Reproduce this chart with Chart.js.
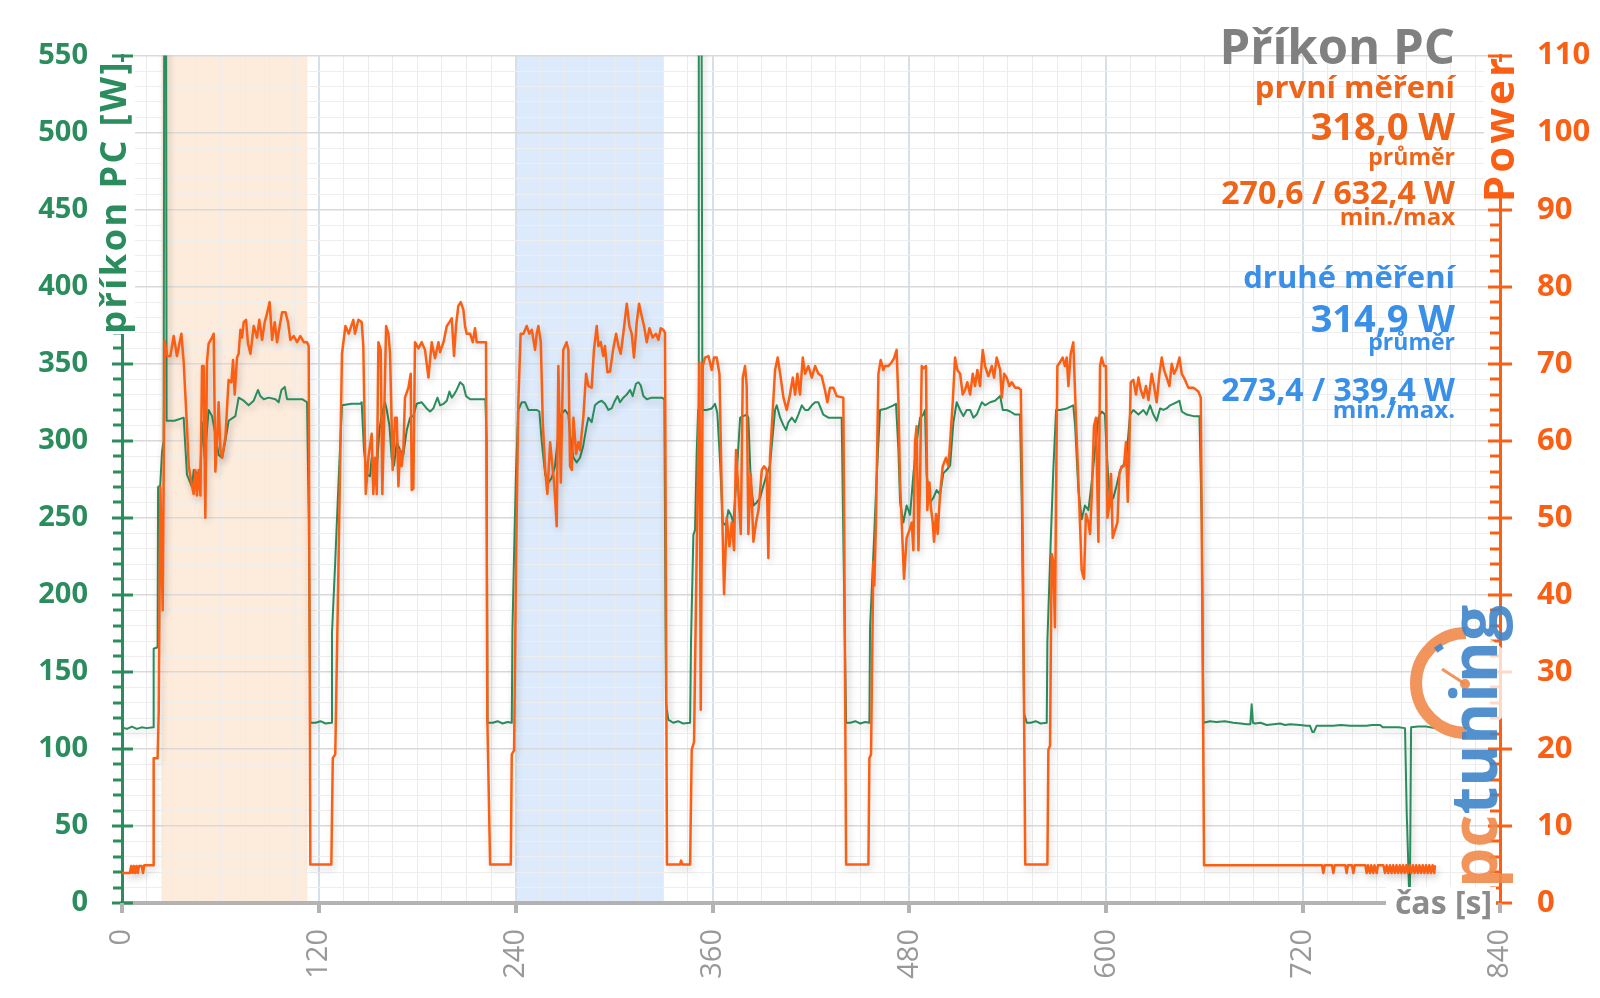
<!DOCTYPE html>
<html lang="cs">
<head>
<meta charset="utf-8">
<title>Příkon PC</title>
<script src="https://cdn.jsdelivr.net/npm/chart.js@4.4.1/dist/chart.umd.min.js"></script>
<style>
  html, body { margin: 0; padding: 0; background: #fff; }
  #power-chart { display: block; }
</style>
</head>
<body>
<canvas id="power-chart" width="1600" height="998"></canvas>
<script>
// time [s] / value pairs
const greenSeries = [
  [0,114],[3,113],[6,114.5],[9,113],[12,114],[15,113.5],[19,114],[19.3,165],[21.7,166],[22,270],[23.3,271],[24.4,293],[25.4,300],[25.8,632],[26.8,632],[27.2,313],[32,313],[37.6,315],
  [39.6,278],[42.7,270],[43.7,281],[46.7,278],[47.8,281],[48.8,312],[50.4,289],[52.8,320],[54.9,316],[56.9,304],[58.9,291],[61,289],[63,300],[65,313],[69.1,316],[71.1,328],[74.2,326],
  [77.2,323],[80.3,326],[82.9,333],[84.3,329],[86.4,327],[89.4,328],[93.5,327],[95.5,325],[97.2,333],[99.2,335],[100.6,327],[105.7,327],[109.8,327],[112.8,325],[113.8,252],[114.8,117],
  [118,117],[121,118],[124,116.5],[127.6,117],[128,175],[130,222],[132.1,276],[134.1,323],[140,324],[145.3,324],[146.1,325],[147.5,294],[149.2,278],[151.2,277],[152.2,289],[153.6,281],
  [155.3,281],[156.9,307],[158.3,317],[160.3,325],[161.4,320],[163,310],[164.4,289],[165.8,284],[167.5,299],[169.5,294],[171.5,291],[173.6,307],[175.6,315],[177.6,316],[179.6,324],
  [182.7,325],[185.7,321],[187.8,319],[189.8,321],[192.3,328],[193.9,323],[196,324],[198,326],[199.6,332],[201,328],[202.4,330],[204,333],[206.1,338],[208.1,336],[209.7,329],[212.2,327],
  [215.2,327],[219.3,327],[221.5,327],[222.3,300],[222.8,117],[226,117],[229,118],[232,116.5],[235,117.5],[237.6,117],[238,177],[239,226],[240.2,281],[241.6,320],[243.7,325],[245.7,325],
  [247.7,320],[250.4,320],[252.8,320],[254.4,319],[255.9,299],[258,278],[260,273],[262,276],[264,284],[266,305],[267.5,317],[270.1,320],[272.1,317],[273.1,304],[275.2,289],[277.2,286],
  [279.2,289],[281.2,297],[283.3,310],[284.3,315],[286.3,312],[288.3,323],[290.4,325],[292.4,326],[294.4,324],[296.5,320],[298.5,321],[300.5,326],[302,329],[303.6,325],[305.6,328],
  [307.7,330],[309.7,333],[311.3,329],[313.3,337],[314.8,338],[316.2,336],[317.8,329],[319.9,327],[322.9,328],[326,328],[329,328],[330.6,327],[331.6,130],[333,119],[336,117],[339,118],
  [342,116.5],[346.3,117],[346.9,172],[348.3,239],[349.3,242],[350.3,291],[351.2,320],[351.6,620],[353.2,620],[353.8,320],[356.4,320],[359.5,321],[361.5,324],[362.9,318],[364.6,286],
  [366.2,247],[368.2,245],[369.6,255],[371.1,252],[372.7,247],[374.7,278],[376.8,315],[378.8,316],[380.8,317],[381.8,315],[383.3,273],[384.9,258],[386.9,260],[389,263],[391,271],
  [393,278],[395,284],[396.7,304],[398.1,320],[399.1,323],[401.2,315],[403.2,310],[404.8,307],[406.2,312],[408.3,315],[410.3,312],[412.3,317],[414.4,323],[416.4,320],[418.4,320],
  [420.5,323],[422.5,325],[424.5,325],[427.5,317],[430.6,315],[433.6,315],[438.7,315],[439.7,237],[441.4,117],[444,117],[447,118],[450,116.5],[453,117.5],[455.6,117],[456,179],
  [458,226],[460,276],[462.1,320],[466.2,321],[470.2,323],[471.8,324],[473.3,294],[474.3,260],[476.3,247],[478.3,258],[480.4,252],[482.4,278],[484.4,299],[486.5,315],[488.5,317],
  [489.5,320],[490.5,278],[492.6,260],[494.6,263],[496.6,268],[498.7,265],[500.7,279],[502.7,281],[504.8,284],[506.8,312],[508.8,325],[510.9,320],[512.9,316],[514.9,320],[517,320],
  [519,315],[521,317],[524.1,325],[526.1,323],[529.2,325],[532.2,326],[535.3,329],[536.9,320],[539.3,320],[541.4,319],[544.4,317],[547.4,317],[548.5,258],[549.9,123],[551.5,117],
  [554,117],[557,118],[560,116.5],[563.7,117],[564.1,170],[566.1,234],[567.7,281],[569.4,320],[571.8,320],[575.9,321],[579.9,323],[581,310],[583,268],[585,249],[587,258],[589.1,255],
  [591.1,273],[593.1,294],[595.2,315],[597.2,319],[599.2,317],[600.3,291],[602.3,260],[604.3,263],[606.3,271],[608.4,281],[610.4,284],[612.4,291],[614.5,317],[616.5,320],[619.6,317],
  [622.6,320],[624.6,317],[626.7,323],[628.7,317],[630.7,313],[632.8,321],[634.8,320],[636.8,321],[638.9,323],[640.9,324],[642.9,325],[644.6,326],[646,319],[649,317],[653.1,316],
  [656.8,316],[658.2,247],[659.2,117],[663.2,118],[667,117.5],[672.3,118],[677.4,117],[682,116.5],[685.6,116],[687.8,116],[688.6,129],[689.4,117],[690.6,116.5],[694,117],[697.8,115.5],
  [702,116],[705.9,116.5],[709,115.5],[712,116],[718.1,115.5],[722,115],[724.2,115],[725.6,111],[726.6,111],[728.2,115],[733,115],[738.4,115],[743,115.5],[748.6,115],[753,115],
  [758.7,115],[762,115.5],[766.9,115.5],[768.5,114],[773,114],[778,114],[782.1,113.5],[783.1,60],[784.5,10.5],[785.1,10.5],[785.8,114],[790,114.5],[795,114.5],[800,113.5]
];

const orangeSeries = [
  [0,3.9],[4.8,3.9],[5.6,4.8],[6.4,3.9],[7.2,4.8],[8,3.9],[8.8,4.8],[9.6,3.9],[10.4,4.8],[12,4.8],[12.8,3.9],[13.6,4.9],[19,4.9],[19.3,18.8],[21.7,18.8],[22.4,25],[23.4,54],[24.8,38],
  [26,73],[27.4,71],[29.5,71],[31.5,73.6],[33.5,71],[36.2,73.9],[37.6,70.2],[39.6,61.9],[40.7,56.7],[42.7,54.1],[43.7,53.1],[44.7,56.2],[45.7,52.9],[46.7,56.2],[47.8,52.9],[48.8,69.7],
  [49.8,69.7],[50.8,50],[51.8,70.2],[52.8,72.6],[54.9,73.4],[55.9,73.9],[56.9,56],[57.9,59.8],[58.9,65],[60,58.8],[61,57.8],[63,60.4],[65,67.9],[66.7,67.6],[67.7,70.5],[68.7,66],
  [70.1,70.8],[71.1,71.3],[72.2,74.4],[73.2,73.4],[74.2,75.4],[75.6,75.7],[76.8,72.6],[78.3,71.3],[80.3,74.9],[82.3,73.4],[83.7,75.7],[85.4,73.1],[87,75.4],[88.4,76.5],[90,78],
  [91.5,73.1],[93.1,75.4],[94.5,72.8],[95.9,74.6],[97.6,76.7],[99.6,76.7],[101.2,75.4],[102.6,73.1],[104.7,73.6],[106.7,72.8],[108.7,73.6],[110.8,72.8],[112.8,72.8],[113.8,72.3],
  [114.8,5],[127.6,5],[128.5,18.8],[130,19.3],[132,44.3],[134.1,71.3],[136.2,74.9],[138.2,73.9],[141,75.7],[142,73.9],[144.1,75.7],[146.1,75.4],[147.1,72.3],[148.6,53.1],[150.2,57.8],
  [152.2,60.9],[153.2,53.1],[154.2,57.8],[155.3,53.1],[156.3,72.8],[157.7,71.8],[158.7,53.1],[160,65],[161,74.9],[162.4,73.9],[163.4,71.3],[165,56.2],[166.4,63],[167.5,63],[168.5,54.1],
  [169.5,58.8],[170.5,56.7],[171.5,58.8],[172.5,65.6],[174.6,66.9],[176,68.7],[176.6,53.6],[177.6,53.8],[178.6,72.8],[180.7,72],[182.7,72.8],[184.7,71.8],[186.8,68.2],[188.8,72.8],
  [190.8,70.7],[192.9,72.8],[193.9,71.5],[196,72.8],[198,74.9],[199.6,75.4],[201,75.9],[202.4,71],[203.6,74.9],[205,77.5],[206.5,78],[208.1,77],[209.1,74.9],[210.1,73.9],[212.2,73.9],
  [213.8,72.8],[215.2,74.6],[216.2,72.8],[221.9,72.8],[222.7,24],[224.4,5],[237,5],[237.6,19.3],[239,19.8],[240.2,44.3],[241.6,65],[243,73.9],[244.7,73.9],[246.7,74.9],[248.3,73.9],
  [249.8,74.4],[251.8,71.8],[252.8,73.9],[253.8,74.9],[255.3,72.8],[256.5,62.4],[258,56.2],[259.3,53.1],[261,59.8],[262.6,56.2],[263.4,54.6],[265,48.9],[266,69.7],[267.5,54.6],
  [269,71.8],[271,72.8],[272.1,71.8],[273.1,56.7],[274.2,56.2],[275.2,63],[276.8,58.3],[278.2,59.8],[279.2,58.8],[281.2,63],[282.9,68.7],[284.3,67.1],[286.3,66.9],[287.7,71.8],
  [289.4,74.9],[290.4,72.3],[291.8,72.8],[293.4,71],[294.4,72.3],[295.9,68.9],[297.5,69],[299.5,72],[301.2,73.9],[302.6,72.3],[304,71.3],[305.6,73.9],[307.7,77.8],[309.3,74.9],
  [310.7,73.9],[312.1,70.8],[313.8,75.4],[315.2,77.8],[316.8,76.2],[318.2,74.9],[319.9,72.8],[321.5,74.6],[323.5,73.4],[325.5,73.9],[327,73.1],[328.4,74.6],[330,74.4],[331,74],
  [332.2,5],[340.2,5],[340.8,5.5],[341.6,5],[346.3,5],[347.3,19.9],[348.7,20.9],[350.3,45.3],[352,70.2],[352.8,25.1],[354,69.7],[355.4,70.8],[357.5,71],[359.5,69.2],[360.9,70.8],
  [362.5,70.8],[364.2,68.7],[365.6,53.1],[367,40.1],[368.6,50],[370.3,46.3],[371.7,49.4],[373.1,45.8],[374.3,58.8],[375.7,53.6],[377.2,47.9],[378.4,68.2],[379.8,69.7],[380.8,67.1],
  [381.8,47.9],[383.3,55.7],[384.9,46.9],[386.5,49.4],[388,51],[390,56.2],[391.4,56.7],[393,56.2],[394,44.8],[395,57.8],[396.7,64],[398.1,69.2],[399.7,70.8],[401.2,68.7],[403.2,65.6],
  [405.2,64],[407.2,66],[408.9,68.2],[410.3,66],[411.7,68.7],[413.3,66],[415,70.8],[416.4,68.7],[418.4,69.7],[420.5,68.2],[422.5,69.7],[424.5,68.7],[426.5,68.4],[428.5,66.6],[430,65],
  [431.6,66.9],[433.6,66.9],[435.7,65.8],[439.7,65.6],[440.3,47],[441.4,5],[455,5],[455.6,18.8],[456.6,19.3],[458,44.3],[458.6,41.2],[459.6,49.4],[461.1,68.7],[462.5,70.5],[464.1,69.2],
  [465.1,69.7],[467.2,69.7],[469.2,70.2],[470.6,70.7],[472.2,71.8],[473.3,65],[474.3,54.6],[475.3,49.4],[476.7,42.1],[478.3,47.4],[480,48.4],[481.4,49.4],[482.4,45.8],[483.4,59.8],
  [484.4,61.9],[485.5,45.8],[486.5,55.2],[487.5,69.7],[488.5,69.4],[490.1,69.7],[490.9,51],[492.2,54.6],[493,51.5],[494.2,49.4],[495,46.9],[496.2,50.5],[497.2,47.9],[498.7,53.1],
  [500.3,56.7],[502.3,57.8],[503.8,56.7],[504.8,59.8],[506.4,65],[507.8,70.8],[509.2,69.2],[510.9,68.7],[512.5,66],[513.9,66.6],[515.3,67.6],[517,66],[518.6,68.7],[520,67.1],
  [521.4,69.2],[523,67.1],[524.7,71.8],[526.1,69.7],[528.1,68.4],[530.2,69.7],[531.6,68.2],[533.2,70.8],[535.3,69.2],[536.3,65.6],[537.7,68.7],[539.3,68.2],[540.9,67.1],[542.4,67.6],
  [544.4,66.9],[546.4,66.9],[547.9,66.6],[549.1,47],[550.6,5],[564.1,5],[564.7,19.9],[565.7,20.4],[566.7,45.3],[567.7,44.3],[568.7,35.8],[569.4,53.6],[570.2,69.7],[571.8,70.2],
  [573.4,70.8],[574.8,69.7],[575.9,70.8],[576.9,67.1],[578.3,71.3],[579.9,72.8],[581.6,62.4],[583.6,51.5],[585,43.2],[586.4,42.1],[587.6,50.5],[589.1,49.4],[590.1,47.9],[591.1,52.6],
  [592.5,61.9],[593.7,63],[595.2,46.9],[596.2,69.7],[597.2,70.8],[598.6,69.7],[599.8,69.7],[600.7,50],[601.9,51.5],[602.9,55.7],[603.9,47.4],[605.3,48.4],[606.8,49.4],[608,55.7],
  [609.4,56.7],[610.8,56.7],[612,59.8],[613.1,52.1],[614.1,59.8],[614.9,67.6],[616.5,67.9],[618.1,66],[619.6,68.2],[621,66.6],[622.6,65.6],[624.2,67.1],[625.7,65.3],[627.7,68.7],
  [629.1,67.1],[630.7,65],[632.4,68.7],[633.8,70.8],[635.2,69.2],[636.8,68.2],[638.5,67.1],[639.9,70],[641.3,68.7],[642.9,69.4],[644.6,70.8],[646,68.7],[648,67.9],[650,66.9],
  [653.1,66.9],[656.1,66.4],[657.6,65.6],[658.2,49.4],[659.6,4.9],[731.5,4.9],[732.3,3.9],[733.1,4.9],[737.6,4.9],[738.4,3.9],[739.2,4.9],[745.7,4.9],[746.5,3.9],[747.3,4.9],
  [749.8,4.9],[750.6,3.9],[751.4,4.9],[757.9,4.9],[758.7,3.9],[759.5,4.9],[760.7,3.9],[761.5,4.9],[762.7,3.9],[763.5,4.9],[764.8,3.9],[765.6,4.9],[768.9,4.9],[769.9,3.9],[770.9,4.9],
  [771.9,3.9],[772.9,4.9],[773.9,3.9],[774.9,4.9],[775.9,3.9],[776.9,4.9],[777.9,3.9],[778.9,4.9],[779.9,3.9],[780.9,4.9],[781.9,3.9],[782.9,4.9],[783.9,3.9],[784.9,4.9],[785.9,3.9],
  [786.9,4.9],[787.9,3.9],[788.9,4.9],[789.9,3.9],[790.9,4.9],[791.9,3.9],[792.9,4.9],[793.9,3.9],[794.9,4.9],[795.9,3.9],[796.9,4.9],[797.9,3.9],[798.9,4.9],[799.9,3.9],[800.4,4.9]
];

const bandFirst = [24, 113];
const bandSecond = [240, 330];

const timeLabels = [0, 120, 240, 360, 480, 600, 720, 840];
const wattLabels = [0, 50, 100, 150, 200, 250, 300, 350, 400, 450, 500, 550];
const powerLabels = [0, 10, 20, 30, 40, 50, 60, 70, 80, 90, 100, 110];

const firstRun = ['první měření', '318,0 W', 'průměr', '270,6 / 632,4 W', 'min./max'];
const secondRun = ['druhé měření', '314,9 W', 'průměr', '273,4 / 339,4 W', 'min./max.'];

const GREEN = '#2b8c5d';
const ORANGE = '#fa5f14';
const ORANGE_TXT = '#ee6418';
const BLUE_TXT = '#3a8fe6';
const GRAY = '#999999';
const FONT = '"Open Sans", "DejaVu Sans", sans-serif';

const toPoints = (arr) => arr.map(([x, y]) => ({ x, y }));

const backdrop = {
  id: 'backdrop',
  beforeDraw(chart) {
    const { ctx, chartArea: a, scales: { x } } = chart;
    ctx.save();
    ctx.fillStyle = '#fff';
    ctx.fillRect(0, 0, chart.width, chart.height);
    const fillBand = (band, color) => {
      const x1 = x.getPixelForValue(band[0]);
      const x2 = x.getPixelForValue(band[1]);
      ctx.fillStyle = color;
      ctx.fillRect(x1, a.top, x2 - x1, a.bottom - a.top);
    };
    fillBand(bandFirst, '#fdebdc');
    fillBand(bandSecond, '#dceafb');
    ctx.restore();
  },
};

const lineShadow = {
  id: 'lineShadow',
  beforeDatasetDraw(chart) {
    const c = chart.ctx;
    c.save();
    c.shadowColor = 'rgba(0,0,0,0.18)';
    c.shadowBlur = 7;
    c.shadowOffsetX = 2;
    c.shadowOffsetY = 4;
  },
  afterDatasetDraw(chart) {
    chart.ctx.restore();
  },
};

const decorations = {
  id: 'decorations',
  afterDraw(chart) {
    const { ctx, chartArea: a, scales } = chart;
    const yW = scales.y;
    const yP = scales.yPower;
    const x = scales.x;
    ctx.save();

    // left axis ticks
    ctx.strokeStyle = GREEN;
    ctx.lineWidth = 3;
    for (let v = 0; v <= 550; v += 10) {
      const py = Math.round(yW.getPixelForValue(v));
      ctx.beginPath();
      if (v % 50 === 0) {
        ctx.moveTo(a.left - 10, py);
        ctx.lineTo(a.left + 11, py);
      } else {
        ctx.moveTo(a.left - 9, py);
        ctx.lineTo(a.left, py);
      }
      ctx.stroke();
    }

    // right axis ticks
    ctx.strokeStyle = ORANGE;
    for (let v = 0; v <= 110; v += 2) {
      const py = Math.round(yP.getPixelForValue(v));
      ctx.beginPath();
      if (v % 10 === 0) {
        ctx.moveTo(a.right - 12, py);
        ctx.lineTo(a.right + 12, py);
      } else {
        ctx.moveTo(a.right - 10, py);
        ctx.lineTo(a.right, py);
      }
      ctx.stroke();
    }

    // x axis ticks
    ctx.strokeStyle = '#b3b3b3';
    ctx.lineWidth = 4;
    timeLabels.forEach((t) => {
      const px = Math.round(x.getPixelForValue(t));
      ctx.beginPath();
      ctx.moveTo(px, a.bottom);
      ctx.lineTo(px, a.bottom + 10);
      ctx.stroke();
    });

    // axis titles
    ctx.fillStyle = '#fff';
    ctx.fillRect(97, 62, 38, 272);
    ctx.fillRect(1484, 62, 34, 130);

    ctx.save();
    ctx.translate(116, 60);
    ctx.rotate(-Math.PI / 2);
    ctx.font = `bold 36px ${FONT}`;
    ctx.letterSpacing = '2.5px';
    ctx.fillStyle = GREEN;
    ctx.textAlign = 'right';
    ctx.textBaseline = 'middle';
    ctx.fillText('příkon PC [W]', 0, 0);
    ctx.restore();

    ctx.save();
    ctx.translate(1502, 55);
    ctx.rotate(-Math.PI / 2);
    ctx.font = `bold 42px ${FONT}`;
    ctx.letterSpacing = '3px';
    ctx.fillStyle = ORANGE;
    ctx.textAlign = 'right';
    ctx.textBaseline = 'middle';
    ctx.fillText('Power', 0, 0);
    ctx.restore();

    // x axis title
    ctx.fillStyle = '#fff';
    ctx.fillRect(1386, 887, 110, 36);
    ctx.font = `bold 32px ${FONT}`;
    ctx.fillStyle = '#8c8c8c';
    ctx.textAlign = 'right';
    ctx.textBaseline = 'alphabetic';
    ctx.fillText('čas [s]', 1492, 914);

    // summary block
    const rightX = 1455;
    const line = (text, size, color, y) => {
      ctx.font = `bold ${size}px ${FONT}`;
      ctx.fillStyle = color;
      ctx.fillText(text, rightX, y);
    };
    line('Příkon PC', 49, '#808080', 64);
    line(firstRun[0], 31, ORANGE_TXT, 98);
    line(firstRun[1], 38, ORANGE_TXT, 140);
    line(firstRun[2], 23, ORANGE_TXT, 165);
    line(firstRun[3], 32, ORANGE_TXT, 204);
    line(firstRun[4], 24, ORANGE_TXT, 225);
    line(secondRun[0], 31, BLUE_TXT, 288);
    line(secondRun[1], 38, BLUE_TXT, 332);
    line(secondRun[2], 23, BLUE_TXT, 350);
    line(secondRun[3], 32, BLUE_TXT, 401);
    line(secondRun[4], 24, BLUE_TXT, 418);

    // pctuning logo
    ctx.save();
    ctx.globalAlpha = 0.9;
    ctx.beginPath();
    ctx.arc(1466, 683, 50, 0, Math.PI * 2);
    ctx.fillStyle = 'rgba(255,255,255,0.85)';
    ctx.fill();
    ctx.beginPath();
    ctx.arc(1466, 683, 50, Math.PI * 0.5, Math.PI * 1.5);
    ctx.strokeStyle = '#f08a4b';
    ctx.lineWidth = 12;
    ctx.stroke();
    ctx.beginPath();
    ctx.moveTo(1442, 669);
    ctx.lineTo(1465, 684);
    ctx.lineWidth = 3;
    ctx.stroke();
    ctx.beginPath();
    ctx.arc(1465, 684, 5, 0, Math.PI * 2);
    ctx.fillStyle = '#f08a4b';
    ctx.fill();
    ctx.save();
    ctx.translate(1439, 648);
    ctx.rotate(-0.6);
    ctx.fillStyle = '#3f85c9';
    ctx.fillRect(-4, -3, 8, 6);
    ctx.restore();

    ctx.translate(1497, 888);
    ctx.rotate(-Math.PI / 2);
    ctx.font = `bold 64px ${FONT}`;
    ctx.textAlign = 'left';
    ctx.textBaseline = 'alphabetic';
    ctx.fillStyle = '#f08a4b';
    ctx.fillText('pc', 0, 0);
    const pcW = ctx.measureText('pc').width;
    ctx.fillStyle = '#3f85c9';
    ctx.fillText('tuning', pcW, 0);
    ctx.restore();

    ctx.restore();
  },
};

const ctx = document.getElementById('power-chart').getContext('2d');

window.powerChart = new Chart(ctx, {
  type: 'line',
  data: {
    datasets: [
      {
        label: 'Power',
        data: toPoints(orangeSeries),
        yAxisID: 'yPower',
        borderColor: ORANGE,
        borderWidth: 2.5,
        pointRadius: 0,
        tension: 0,
        borderJoinStyle: 'round',
      },
      {
        label: 'příkon PC [W]',
        data: toPoints(greenSeries),
        yAxisID: 'y',
        borderColor: GREEN,
        borderWidth: 2,
        pointRadius: 0,
        tension: 0,
        borderJoinStyle: 'round',
      },
    ],
  },
  options: {
    responsive: false,
    animation: false,
    layout: {
      padding: { top: 53, left: 0, right: 0, bottom: 0 },
    },
    plugins: {
      legend: { display: false },
      tooltip: { enabled: false },
    },
    scales: {
      x: {
        type: 'linear',
        min: 0,
        max: 840,
        afterFit: (scale) => { scale.height = 95; },
        border: { color: '#b3b3b3', width: 4 },
        grid: {
          drawTicks: false,
          color: (c) => (c.tick && c.tick.value % 120 === 0 ? '#d5e1ea' : '#ececec'),
          lineWidth: (c) => (c.tick && c.tick.value % 120 === 0 ? 2 : 1),
        },
        ticks: {
          stepSize: 15,
          autoSkip: false,
          minRotation: 90,
          maxRotation: 90,
          padding: 26,
          color: GRAY,
          font: { family: FONT, size: 29 },
          callback: (v) => (timeLabels.includes(v) ? String(v) : ''),
        },
      },
      y: {
        position: 'left',
        min: 0,
        max: 550,
        afterFit: (scale) => { scale.width = 122; },
        border: { color: GREEN, width: 3 },
        grid: {
          drawTicks: false,
          color: (c) => (c.tick && c.tick.value % 50 === 0 ? '#d9d9d9' : '#eeeeee'),
          lineWidth: (c) => (c.tick && c.tick.value % 50 === 0 ? 1.5 : 1),
        },
        ticks: {
          stepSize: 10,
          autoSkip: false,
          padding: 34,
          color: GREEN,
          font: { family: FONT, size: 29, weight: 'bold' },
          callback: (v) => (wattLabels.includes(v) ? String(v) : ''),
        },
      },
      yPower: {
        position: 'right',
        min: 0,
        max: 110,
        afterFit: (scale) => { scale.width = 100; },
        border: { color: ORANGE, width: 3 },
        grid: { drawOnChartArea: false, drawTicks: false },
        ticks: {
          stepSize: 10,
          autoSkip: false,
          padding: 37,
          color: ORANGE,
          font: { family: FONT, size: 31, weight: 'bold' },
          callback: (v) => (powerLabels.includes(v) ? String(v) : ''),
        },
      },
    },
  },
  plugins: [backdrop, lineShadow, decorations],
});
</script>
</body>
</html>
